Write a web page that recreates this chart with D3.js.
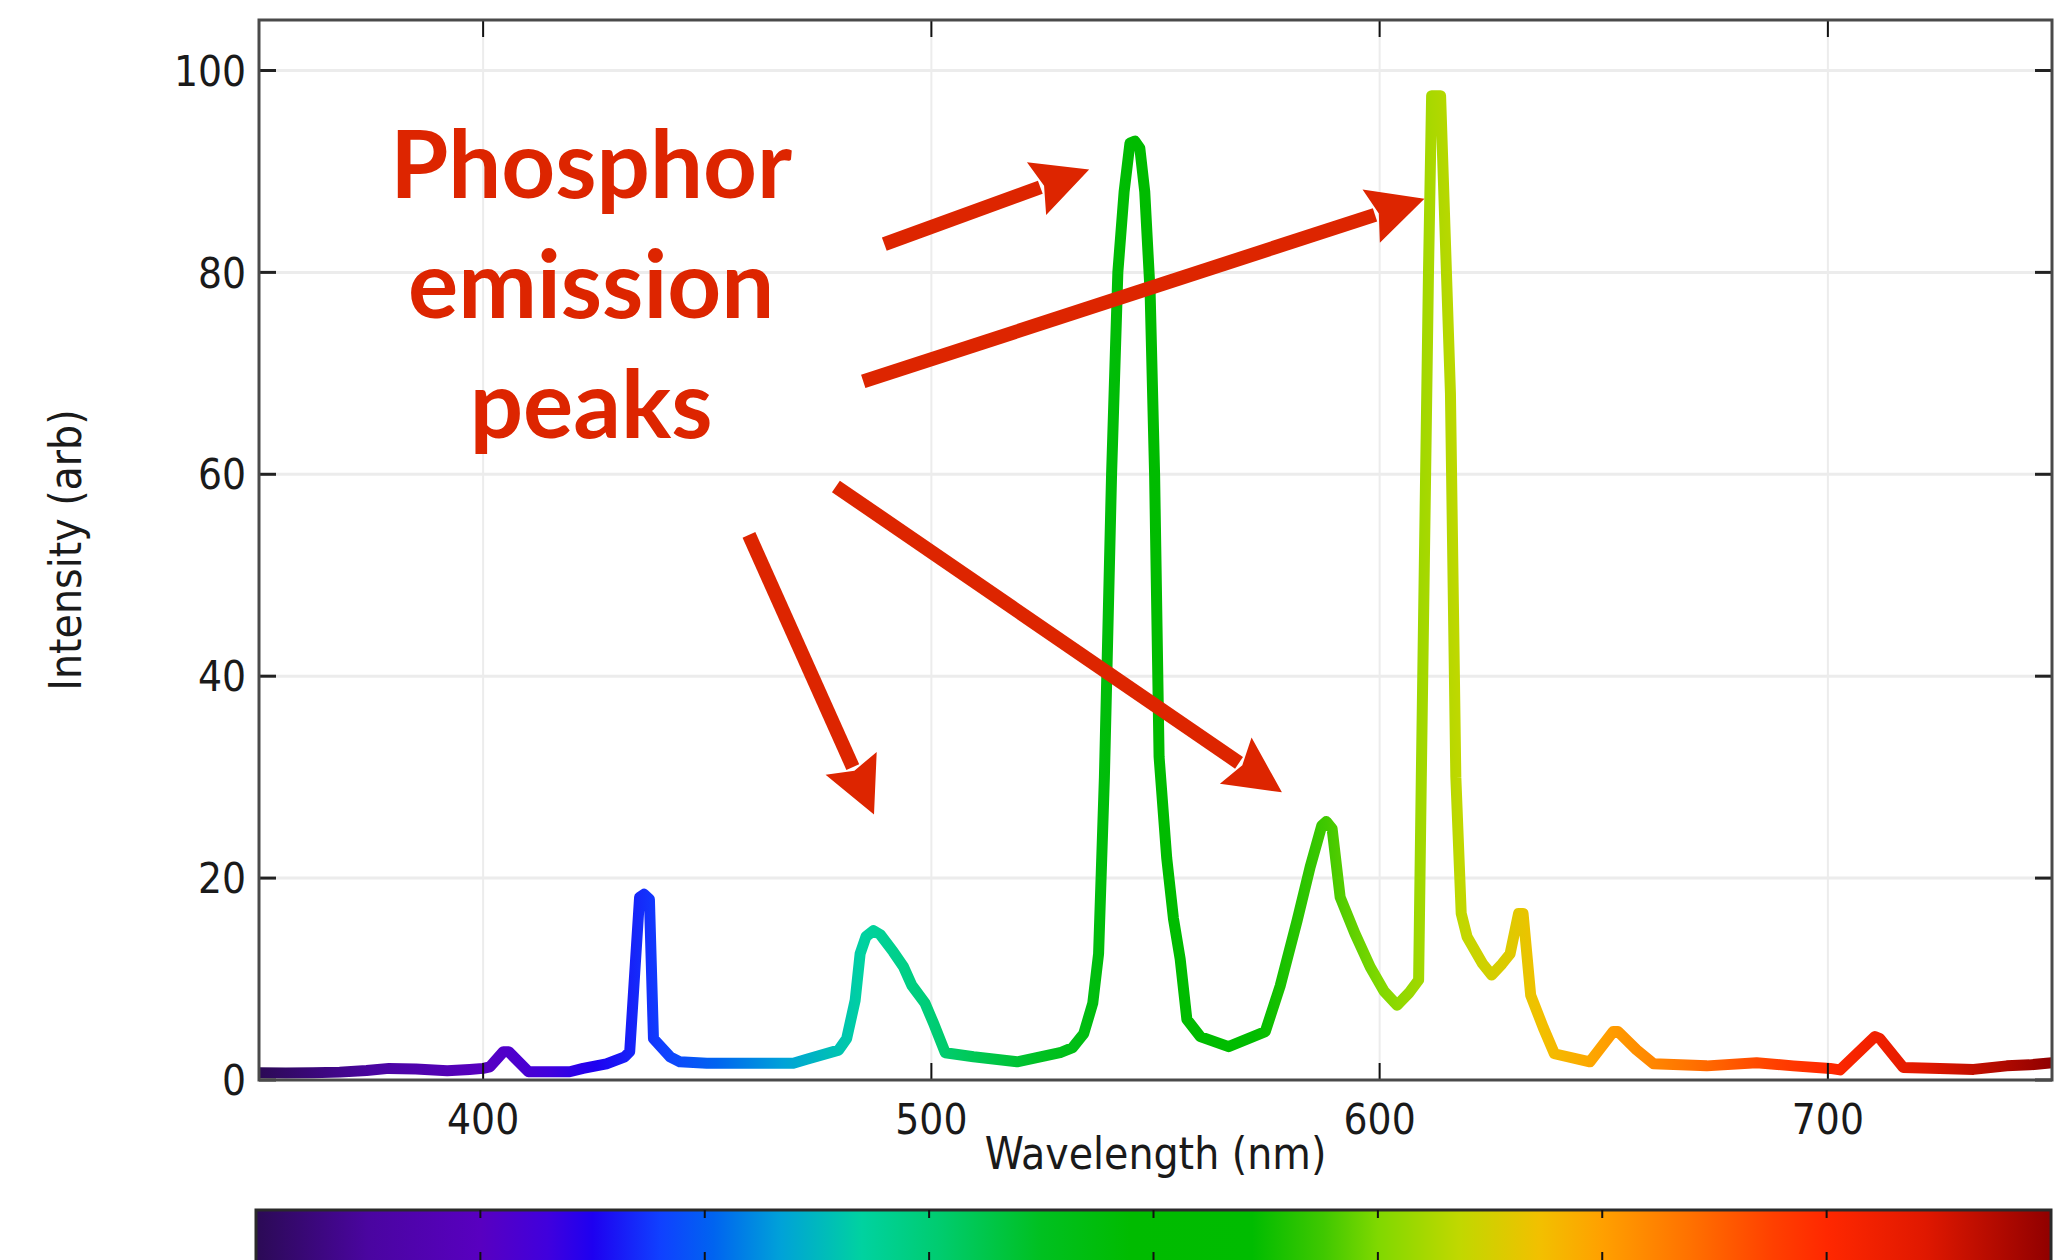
<!DOCTYPE html>
<html>
<head>
<meta charset="utf-8">
<script src="https://cdn.jsdelivr.net/npm/d3@7"></script>
<style>
  html, body { margin: 0; padding: 0; background: #ffffff; }
  svg { display: block; }
</style>
</head>
<body>
<svg id="chart" width="2060" height="1260"></svg>
<script>
// Fluorescent lamp emission spectrum: wavelength (nm) and relative intensity
const wavelength = [
  350, 356, 362, 368, 374, 379, 385, 392, 397, 400,
  401.5, 404.5, 405.7, 410.1, 419.3, 422.3, 427.5, 431.6, 432.7, 434.9,
  435.9, 437.1, 438.0, 441.7, 443.9, 449.9, 457.3, 469.2, 472.2, 479.3,
  481.1, 483.0, 484.1, 485.4, 487.1, 488.6, 491.5, 493.8, 495.6, 498.6,
  500.5, 503.1, 509.4, 519.1, 528.7, 531.5, 534.0, 536.0, 537.3, 538.6,
  540.2, 541.6, 543.0, 544.3, 545.4, 546.5, 547.6, 548.8, 549.8, 550.8,
  552.5, 554.0, 555.5, 557.0, 560.0, 566.3, 574.5, 577.8, 581.6, 584.5,
  587.1, 588.1, 589.4, 591.2, 594.5, 597.9, 601.0, 603.9, 606.5, 608.7,
  609.3, 610.9, 611.6, 613.6, 615.8, 617.0, 618.2, 619.5, 623.0, 625.0,
  627.3, 629.1, 631.0, 632.0, 633.7, 636.5, 639.0, 646.9, 652.1, 653.2,
  657.3, 661.1, 673.0, 684.1, 692.3, 700.5, 702.7, 710.5, 711.6, 716.8,
  725.0, 732.5, 739.9, 745.0, 750.0
];
const intensity = [
  0.72, 0.70, 0.72, 0.78, 0.95, 1.15, 1.10, 0.92, 1.05, 1.15,
  1.3, 2.8, 2.8, 0.82, 0.82, 1.15, 1.6, 2.3, 2.8, 18.1,
  18.4, 17.9, 4.1, 2.3, 1.8, 1.65, 1.65, 1.65, 2.05, 2.96,
  4.1, 7.9, 12.5, 14.2, 14.8, 14.4, 12.7, 11.2, 9.4, 7.6,
  5.6, 2.7, 2.3, 1.8, 2.7, 3.2, 4.6, 7.6, 12.5, 30,
  60, 80, 88, 92.8, 93.0, 92.3, 88, 78, 60, 32,
  22, 16, 12, 6, 4.3, 3.3, 4.8, 9.3, 15.8, 21.1,
  25.2, 25.6, 24.9, 18.1, 14.5, 11.2, 8.8, 7.4, 8.6, 9.9,
  30, 80, 97.5, 97.5, 68, 30, 16.5, 14.2, 11.5, 10.4,
  11.5, 12.5, 16.5, 16.5, 8.4, 5.2, 2.6, 1.8, 4.8, 4.8,
  3.0, 1.6, 1.4, 1.7, 1.4, 1.15, 1.0, 4.3, 4.1, 1.25,
  1.15, 1.05, 1.4, 1.5, 1.7
];

// Axis ticks
const xTicks = [400, 500, 600, 700];
const yTicks = [0, 20, 40, 60, 80, 100];
const colorbarTicks = [400, 450, 500, 550, 600, 650, 700];

// Visible-spectrum colour ramp (wavelength nm -> colour)
const rampWavelength = [350, 375, 400, 415, 425, 440, 452, 467, 485, 502, 525, 545, 572, 588, 600, 618, 636, 650, 670, 688, 700, 722, 750];
const rampColor = ["#2b0a55", "#4a05a0", "#5800c0", "#4000dd", "#1e00f0", "#1040ff", "#0064f0", "#00a2d8", "#00d2a0", "#00cc70", "#00c020", "#00bb00", "#00bc00", "#40c800", "#80d800", "#c0d800", "#f2c000", "#ffa000", "#ff7000", "#ff4000", "#ff2800", "#e01800", "#900000"];

// Callout text and arrows (start nm, start intensity, tip nm, tip intensity)
const calloutLines = ["Phosphor", "emission", "peaks"];
const calloutAnchor = [424.1, 87.4];
const calloutStep = 11.9;
const arrowStartX = [489.5, 484.8, 478.7, 459.3];
const arrowStartY = [82.8, 69.2, 58.8, 54.0];
const arrowTipX = [535.2, 610.0, 578.2, 487.2];
const arrowTipY = [90.2, 87.3, 28.5, 26.3];

const svg = d3.select("#chart");
const W = 2060, H = 1260;
const plot = { left: 259, right: 2052, top: 20, bottom: 1080 };

const x = d3.scaleLinear().domain([350, 750]).range([plot.left, plot.right]);
const y = d3.scaleLinear().domain([0, 105]).range([plot.bottom, plot.top]);
const xBar = d3.scaleLinear().domain([350, 750]).range([256, 2051]);

svg.append("rect").attr("width", W).attr("height", H).attr("fill", "#ffffff");

const defs = svg.append("defs");
const stops = rampWavelength.map((w, i) => ({ offset: (w - 350) / 400, color: rampColor[i] }));

const lineGrad = defs.append("linearGradient")
  .attr("id", "spectrumLine")
  .attr("gradientUnits", "userSpaceOnUse")
  .attr("x1", x(350)).attr("x2", x(750)).attr("y1", 0).attr("y2", 0);
lineGrad.selectAll("stop").data(stops).join("stop")
  .attr("offset", d => d.offset).attr("stop-color", d => d.color);

const barGrad = defs.append("linearGradient")
  .attr("id", "spectrumBar")
  .attr("gradientUnits", "userSpaceOnUse")
  .attr("x1", xBar(350)).attr("x2", xBar(750)).attr("y1", 0).attr("y2", 0);
barGrad.selectAll("stop").data(stops).join("stop")
  .attr("offset", d => d.offset).attr("stop-color", d => d.color);

// Grid
const grid = svg.append("g");
grid.selectAll("line.gx").data(xTicks).join("line")
  .attr("x1", d => x(d)).attr("x2", d => x(d))
  .attr("y1", plot.top).attr("y2", plot.bottom)
  .attr("stroke", "#ececec").attr("stroke-width", 2);
grid.selectAll("line.gy").data(yTicks.filter(t => t > 0)).join("line")
  .attr("x1", plot.left).attr("x2", plot.right)
  .attr("y1", d => y(d)).attr("y2", d => y(d))
  .attr("stroke", "#ececec").attr("stroke-width", 3);

// Spectrum line
const pts = wavelength.map((w, i) => [w, intensity[i]]);
svg.append("path")
  .datum(pts)
  .attr("d", d3.line().x(d => x(d[0])).y(d => y(d[1])))
  .attr("fill", "none")
  .attr("stroke", "url(#spectrumLine)")
  .attr("stroke-width", 11)
  .attr("stroke-linejoin", "round")
  .attr("stroke-linecap", "butt");

// Frame and inward ticks
const frame = svg.append("g");
const tickLen = 17;
frame.selectAll("line.bt").data(xTicks).join("line")
  .attr("x1", d => x(d)).attr("x2", d => x(d))
  .attr("y1", plot.bottom).attr("y2", plot.bottom - tickLen)
  .attr("stroke", "#111").attr("stroke-width", 2);
frame.selectAll("line.tt").data(xTicks).join("line")
  .attr("x1", d => x(d)).attr("x2", d => x(d))
  .attr("y1", plot.top).attr("y2", plot.top + tickLen)
  .attr("stroke", "#111").attr("stroke-width", 2);
frame.selectAll("line.lt").data(yTicks).join("line")
  .attr("x1", plot.left).attr("x2", plot.left + tickLen)
  .attr("y1", d => y(d)).attr("y2", d => y(d))
  .attr("stroke", "#222").attr("stroke-width", 3);
frame.selectAll("line.rt").data(yTicks).join("line")
  .attr("x1", plot.right).attr("x2", plot.right - tickLen)
  .attr("y1", d => y(d)).attr("y2", d => y(d))
  .attr("stroke", "#222").attr("stroke-width", 3);
frame.append("rect")
  .attr("x", plot.left).attr("y", plot.top)
  .attr("width", plot.right - plot.left).attr("height", plot.bottom - plot.top)
  .attr("fill", "none").attr("stroke", "#4a4a4a").attr("stroke-width", 3);

// Tick labels
const tickFont = { family: "'DejaVu Sans', sans-serif", size: 42 };
svg.append("g").selectAll("text").data(yTicks).join("text")
  .attr("x", 246).attr("y", d => y(d)).attr("dy", "0.36em")
  .attr("text-anchor", "end")
  .attr("font-family", tickFont.family).attr("font-stretch", "condensed")
  .attr("font-size", tickFont.size).attr("fill", "#1a1a1a")
  .text(d => d);
svg.append("g").selectAll("text").data(xTicks).join("text")
  .attr("x", d => x(d)).attr("y", 1119).attr("dy", "0.36em")
  .attr("text-anchor", "middle")
  .attr("font-family", tickFont.family).attr("font-stretch", "condensed")
  .attr("font-size", tickFont.size).attr("fill", "#1a1a1a")
  .text(d => d);

// Axis titles
svg.append("text")
  .attr("x", (plot.left + plot.right) / 2).attr("y", 1169)
  .attr("text-anchor", "middle")
  .attr("font-family", tickFont.family).attr("font-stretch", "condensed")
  .attr("font-size", 44).attr("fill", "#1a1a1a")
  .text("Wavelength (nm)");
svg.append("text")
  .attr("transform", `translate(81,${(plot.top + plot.bottom) / 2}) rotate(-90)`)
  .attr("text-anchor", "middle")
  .attr("font-family", tickFont.family).attr("font-stretch", "condensed")
  .attr("font-size", 44).attr("fill", "#1a1a1a")
  .text("Intensity (arb)");

// Colour bar
const bar = svg.append("g");
const barTop = 1210, barBottom = 1264;
bar.append("rect")
  .attr("x", xBar(350)).attr("y", barTop)
  .attr("width", xBar(750) - xBar(350)).attr("height", barBottom - barTop)
  .attr("fill", "url(#spectrumBar)")
  .attr("stroke", "#2a2a2a").attr("stroke-width", 3);
bar.selectAll("line.ct").data(colorbarTicks).join("line")
  .attr("x1", d => xBar(d)).attr("x2", d => xBar(d))
  .attr("y1", barTop).attr("y2", barTop + 8)
  .attr("stroke", "#111").attr("stroke-width", 2);
bar.selectAll("line.cb").data(colorbarTicks).join("line")
  .attr("x1", d => xBar(d)).attr("x2", d => xBar(d))
  .attr("y1", 1252).attr("y2", 1262)
  .attr("stroke", "#111").attr("stroke-width", 2);

// Callout text
const red = "#dd2500";
svg.append("g").selectAll("text").data(calloutLines).join("text")
  .attr("x", x(calloutAnchor[0]))
  .attr("y", (d, i) => y(calloutAnchor[1] - i * calloutStep))
  .attr("text-anchor", "middle")
  .attr("font-family", "Lato, 'Open Sans', sans-serif")
  .attr("font-weight", 700)
  .attr("font-size", 94)
  .attr("fill", red)
  .text(d => d);

// Callout arrows
const headLen = 56, headHalf = 28, shaftW = 14;
const arrows = svg.append("g");
arrowStartX.forEach((sx, i) => {
  const x0 = x(sx), y0 = y(arrowStartY[i]);
  const x1 = x(arrowTipX[i]), y1 = y(arrowTipY[i]);
  const dx = x1 - x0, dy = y1 - y0, len = Math.hypot(dx, dy);
  const ux = dx / len, uy = dy / len;
  const bx = x1 - ux * headLen, by = y1 - uy * headLen;
  arrows.append("line")
    .attr("x1", x0).attr("y1", y0)
    .attr("x2", bx + ux * 4).attr("y2", by + uy * 4)
    .attr("stroke", red).attr("stroke-width", shaftW);
  arrows.append("polygon")
    .attr("points", [
      [x1, y1],
      [bx - uy * headHalf, by + ux * headHalf],
      [bx + ux * 8, by + uy * 8],
      [bx + uy * headHalf, by - ux * headHalf]
    ].map(p => p.join(",")).join(" "))
    .attr("fill", red);
});
</script>
</body>
</html>
